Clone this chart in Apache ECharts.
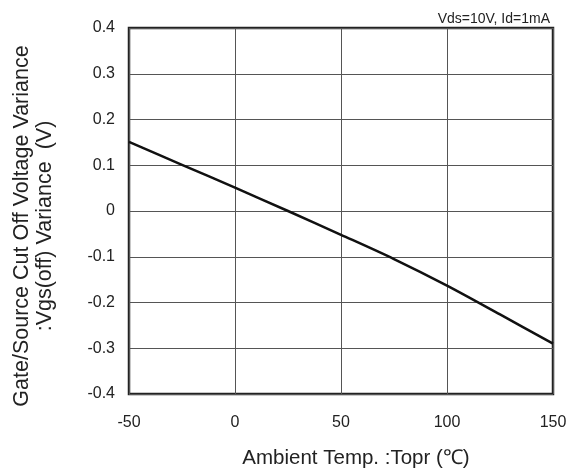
<!DOCTYPE html>
<html>
<head>
<meta charset="utf-8">
<script src="https://cdn.jsdelivr.net/npm/echarts@6/dist/echarts.min.js"></script>
<style>
  html, body { margin: 0; padding: 0; background: #fff; }
  #chart { width: 577px; height: 475px; }
</style>
</head>
<body>
<div id="chart"></div>
<script>
// temperature (°C) vs Vgs(off) variance (V)
var temps = [-50, -25, 0, 25, 50, 75, 100, 125, 150];
var variance = [0.151, 0.101, 0.051, 0.0, -0.052, -0.105, -0.163, -0.226, -0.29];
var xTicks = [-50, 0, 50, 100, 150];
var yTicks = [-0.4, -0.3, -0.2, -0.1, 0, 0.1, 0.2, 0.3, 0.4];

var myChart = echarts.init(document.getElementById('chart'));
var font = 'Liberation Sans, Arial, sans-serif';

var points = temps.map(function (t, i) { return [t, variance[i]]; });

var option = {
    animation: false,
    backgroundColor: '#fff',
    title: {
        text: 'Vds=10V, Id=1mA',
        right: 22,
        top: 7,
        textStyle: { fontFamily: font, fontSize: 14, fontWeight: 'normal', color: '#222' }
    },
    grid: {
        left: 129, right: 24, top: 28, bottom: 81,
        outerBoundsMode: 'none',
        containLabel: false,
        show: true, borderColor: '#222', borderWidth: 2.5, backgroundColor: 'transparent'
    },
    xAxis: {
        type: 'value',
        min: -50, max: 150, interval: 50,
        name: 'Ambient Temp. :Topr (\u2103)',
        nameLocation: 'middle',
        nameGap: 54,
        nameTextStyle: {
            fontFamily: font, fontSize: 20.5, color: '#222',
            padding: [0, 0, 0, 30]
        },
        axisLine: { show: false },
        axisTick: { show: false },
        axisLabel: { fontFamily: font, fontSize: 16, color: '#222', margin: 21 },
        splitLine: { show: true, lineStyle: { color: '#555', width: 1 } }
    },
    yAxis: {
        type: 'value',
        min: -0.4, max: 0.4, interval: 0.1,
        name: 'Gate/Source Cut Off Voltage Variance\n:Vgs(off) Variance  (V)',
        nameLocation: 'middle',
        nameRotate: 90,
        nameGap: 72,
        nameTextStyle: {
            fontFamily: font, fontSize: 21.5, color: '#222', lineHeight: 23,
            padding: [0, 30, 0, 0]
        },
        axisLine: { show: false },
        axisTick: { show: false },
        axisLabel: {
            fontFamily: font, fontSize: 16, color: '#222', margin: 14,
            formatter: function (v) { return String(Math.round(v * 10) / 10); }
        },
        splitLine: { show: true, lineStyle: { color: '#555', width: 1 } }
    },
    series: [{
        type: 'line',
        data: points,
        smooth: 0.3,
        showSymbol: false,
        lineStyle: { color: '#111', width: 2.5 }
    }]
};

myChart.setOption(option);
</script>
</body>
</html>
